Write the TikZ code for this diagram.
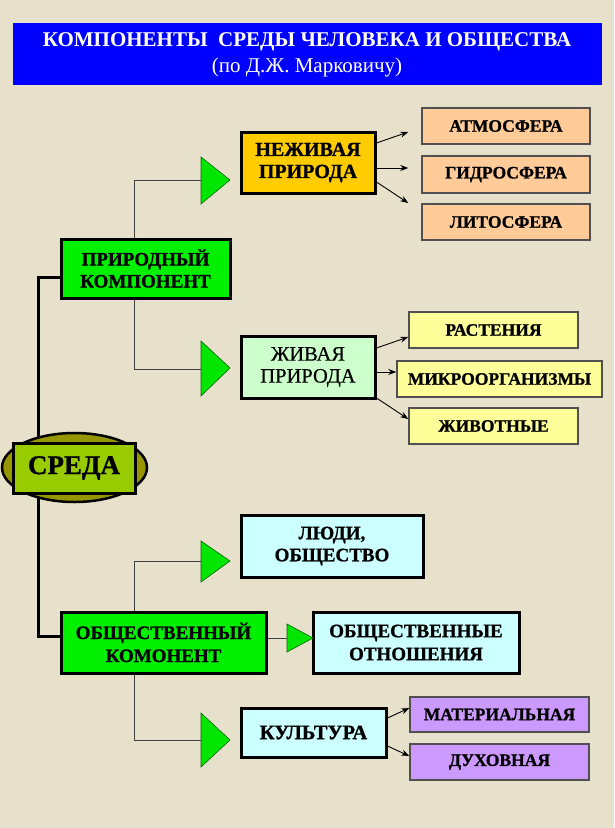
\documentclass[tikz,border=0pt]{standalone}
\usepackage{fontspec}
\setmainfont{Liberation Serif}
\newfontfamily\heavy{Liberation Serif Bold}[FakeBold=1]
\newfontfamily\medium{Liberation Serif}[FakeBold=0.5]
\usetikzlibrary{arrows.meta,calc,shapes.geometric}
\definecolor{bgc}{RGB}{231,225,203}
\definecolor{banner}{RGB}{0,0,255}
\definecolor{gold}{RGB}{255,204,0}
\definecolor{peach}{RGB}{255,204,153}
\definecolor{mint}{RGB}{204,255,204}
\definecolor{lemon}{RGB}{255,255,153}
\definecolor{aqua}{RGB}{204,255,255}
\definecolor{lilac}{RGB}{204,153,255}
\definecolor{lime}{RGB}{0,240,0}
\definecolor{olivec}{RGB}{150,150,0}
\definecolor{yelgreen}{RGB}{153,204,0}
\definecolor{leafline}{RGB}{80,80,80}
\definecolor{trigreen}{RGB}{0,230,0}
\tikzset{
  mainbox/.style={draw=black, line width=3pt, align=center, inner sep=0pt, text=black},
  leafbox/.style={draw=leafline, line width=1.5pt, align=center, inner sep=0pt, text=black,
    minimum height=36pt, font=\fontsize{17.5}{20}\selectfont\heavy},
  tri/.style={fill=trigreen, draw=black!60!green, line width=0.6pt},
  branch/.style={draw=black!75, line width=1pt},
  spine/.style={draw=black, line width=3pt},
  arr/.style={draw=black, line width=0.9pt, -{Stealth[length=8pt,width=6pt]}},
}
\begin{document}
\begin{tikzpicture}[x=1pt,y=-1pt]
\fill[bgc] (0,0) rectangle (614,828);
\useasboundingbox (0,0) rectangle (614,828);

% banner
\node[fill=banner, minimum width=589pt, minimum height=62pt, inner sep=0pt] (ban) at (307.5,54) {};
\node[text=white, font=\fontsize{21}{24}\selectfont\bfseries] (t1) at (307,42) {КОМПОНЕНТЫ\ \ СРЕДЫ ЧЕЛОВЕКА И ОБЩЕСТВА};
\node[text=white, font=\fontsize{21}{24}\selectfont] (t2) at (307,67) {(по Д.Ж. Марковичу)};

% spine
\node[mainbox, fill=lime, minimum width=169pt, minimum height=59pt,
  font=\fontsize{19}{22}\selectfont\heavy] (prir) at (145.5,268.5) {ПРИРОДНЫЙ\\КОМПОНЕНТ};
\node[mainbox, fill=lime, minimum width=205pt, minimum height=61pt,
  font=\fontsize{19}{23}\selectfont\heavy] (obsh) at (163.5,642.5) {ОБЩЕСТВЕННЫЙ\\КОМОНЕНТ};
\coordinate (sp1) at (38,277);
\coordinate (sp2) at (38,636);
\draw[spine] (prir.west |- sp1) -- (sp1) -- (sp2) -- (obsh.west |- sp2);

% sreda
\node[draw=black, line width=2.5pt, fill=olivec, ellipse, minimum width=145pt, minimum height=69pt, inner sep=0pt] (ell) at (74.5,467.5) {};
\node[mainbox, fill=yelgreen, minimum width=122pt, minimum height=50pt,
  font=\fontsize{27}{28}\selectfont\heavy] (sreda) at (74,468) {СРЕДА};

% level 2 boxes
\node[mainbox, fill=gold, minimum width=134pt, minimum height=61pt,
  font=\fontsize{20}{22}\selectfont\heavy] (nezh) at (308,162.5) {НЕЖИВАЯ\\ПРИРОДА};
\node[mainbox, fill=mint, minimum width=134pt, minimum height=62pt,
  font=\fontsize{20.5}{22}\selectfont\medium] (zhivaya) at (308,367) {ЖИВАЯ\\ПРИРОДА};
\node[mainbox, fill=aqua, minimum width=182pt, minimum height=62pt,
  font=\fontsize{19}{22}\selectfont\heavy] (lyudi) at (332,546) {ЛЮДИ,\\ОБЩЕСТВО};
\node[mainbox, fill=aqua, minimum width=206pt, minimum height=61pt,
  font=\fontsize{19}{23}\selectfont\heavy] (otnosh) at (416,642.5) {ОБЩЕСТВЕННЫЕ\\ОТНОШЕНИЯ};
\node[mainbox, fill=aqua, minimum width=145pt, minimum height=49pt,
  font=\fontsize{20.5}{22}\selectfont\heavy] (kult) at (313.5,732.5) {КУЛЬТУРА};

% leaves
\node[leafbox, fill=peach, minimum width=168pt] (atm) at (506,126) {АТМОСФЕРА};
\node[leafbox, fill=peach, minimum width=168pt, minimum height=37pt] (gid) at (506,174.5) {ГИДРОСФЕРА};
\node[leafbox, fill=peach, minimum width=168pt] (lit) at (506,222) {ЛИТОСФЕРА};
\node[leafbox, fill=lemon, minimum width=169pt] (rast) at (493.5,330) {РАСТЕНИЯ};
\node[leafbox, fill=lemon, minimum width=205pt] (micro) at (499.5,379) {МИКРООРГАНИЗМЫ};
\node[leafbox, fill=lemon, minimum width=169pt] (zhiv) at (493.5,426) {ЖИВОТНЫЕ};
\node[leafbox, fill=lilac, minimum width=179pt, minimum height=35pt] (mater) at (499.5,714.5) {МАТЕРИАЛЬНАЯ};
\node[leafbox, fill=lilac, minimum width=179pt] (duh) at (499.5,762) {ДУХОВНАЯ};

% triangles
\coordinate (ta) at (201,180);
\coordinate (tb) at (201,369);
\coordinate (tc) at (201,561);
\coordinate (td) at (287,638);
\coordinate (te) at (201,740);
\draw[tri] (201,157) -- (230,180) -- (201,204) -- cycle;
\draw[tri] (201,341) -- (230,368) -- (201,396) -- cycle;
\draw[tri] (201,541) -- (230,561) -- (201,582) -- cycle;
\draw[tri] (287,624) -- (313,638) -- (287,652) -- cycle;
\draw[tri] (201,713) -- (230,740) -- (201,767) -- cycle;

% branches
\draw[branch] (prir.north -| 134,0) |- (ta);
\draw[branch] (prir.south -| 134,0) |- (tb);
\draw[branch] (obsh.north -| 134,0) |- (tc);
\draw[branch] (obsh.east |- td) -- (td);
\draw[branch] (obsh.south -| 134,0) |- (te);

% arrows
\draw[arr] ([yshift=19.5pt]nezh.east) -- ([xshift=-13pt,yshift=-6pt]atm.west);
\draw[arr] ([yshift=-5.5pt]nezh.east) -- ([xshift=-13pt,yshift=6.5pt]gid.west);
\draw[arr] ([yshift=-19.5pt]nezh.east) -- ([xshift=-13pt,yshift=19pt]lit.west);
\draw[arr] ([yshift=19pt]zhivaya.east) -- ([yshift=-7pt]rast.west);
\draw[arr] ([yshift=-5pt]zhivaya.east) -- ([yshift=7pt]micro.west);
\draw[arr] ([yshift=-31pt]zhivaya.east) -- ([yshift=7pt]zhiv.west);
\draw[arr] ([yshift=14.5pt]kult.east) -- ([yshift=6.5pt]mater.west);
\draw[arr] ([yshift=-13.5pt]kult.east) -- ([yshift=6pt]duh.west);
\end{tikzpicture}
\end{document}
